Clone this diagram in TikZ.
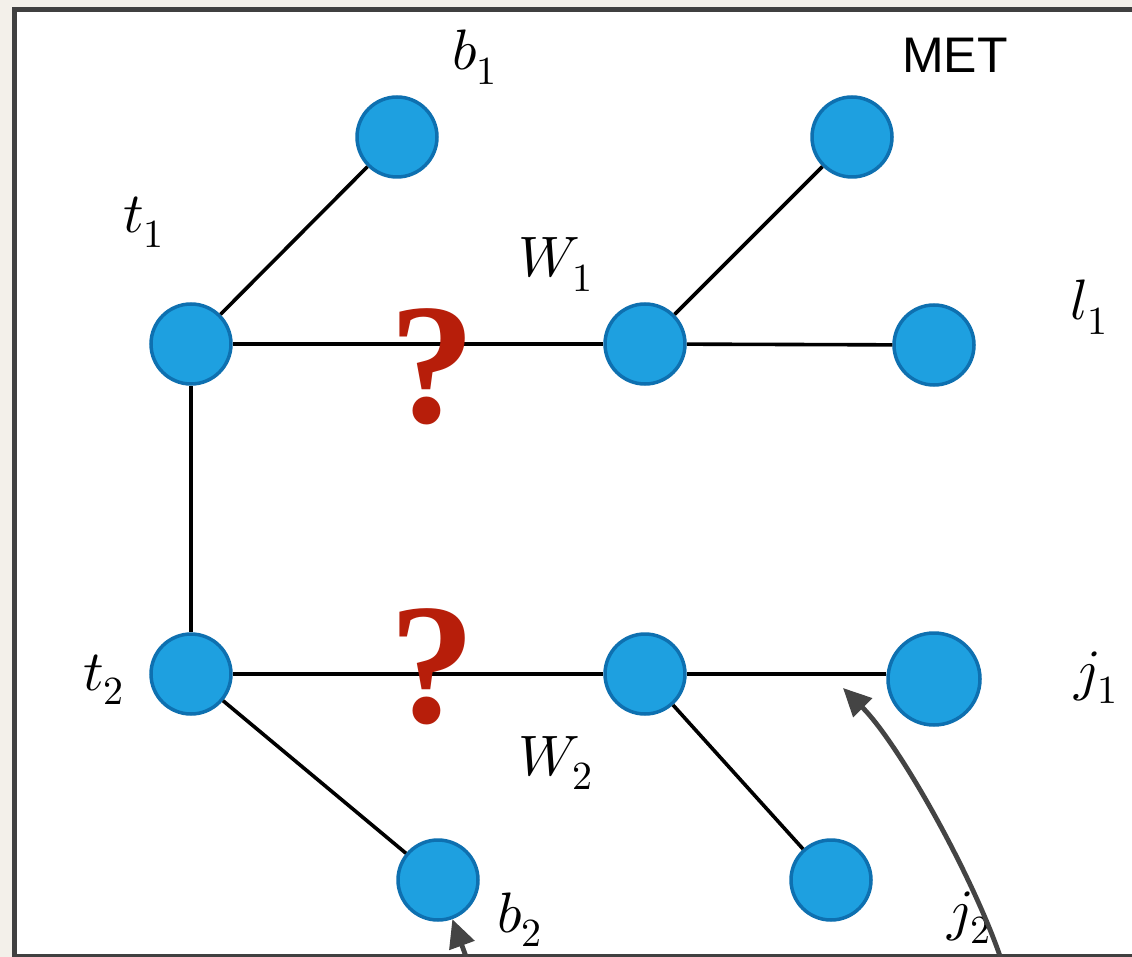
\documentclass[tikz,border=0pt]{standalone}
\usepackage{fontspec}
\usepackage{unicode-math}
\setmathfont{Latin Modern Math}
\newfontfamily\metfont{Liberation Sans}
\newfontfamily\qmarkfont{Liberation Serif}
\usetikzlibrary{arrows.meta}
\definecolor{NodeBlue}{RGB}{30,160,224}
\definecolor{RimBlue}{RGB}{14,112,176}
\definecolor{QRed}{RGB}{183,30,10}
\definecolor{FrameGray}{RGB}{64,64,64}
\definecolor{ArrowGray}{RGB}{68,68,68}
\definecolor{PaperBeige}{RGB}{243,240,234}

\begin{document}
\begin{tikzpicture}[x=1pt, y=-1pt,
    particle/.style={circle, draw=RimBlue, fill=NodeBlue, line width=3.5pt, minimum size=80pt, inner sep=0pt},
    mathtag/.style={anchor=base west, inner sep=0pt, font=\fontsize{57}{60}\selectfont},
    qmark/.style={inner sep=0pt, text=QRed, font=\fontsize{172}{172}\selectfont\qmarkfont\bfseries},
    wire/.style={line width=3.6pt, draw=black},
    pointer/.style={-{Triangle[length=28pt,width=26pt]}, line width=4.8pt, draw=ArrowGray}
  ]
    \useasboundingbox (0,0) rectangle (1132,957);
    \clip (0,0) rectangle (1132,957);
    \fill[PaperBeige] (0,0) rectangle (1132,957);
    \draw[FrameGray, line width=5pt, fill=white] (14.5,9.8) rectangle (1145,956.5);

    \node[particle] (t1) at (191,344) {};
    \node[particle] (b1) at (397,137) {};
    \node[particle] (W1) at (645,344) {};
    \node[particle] (met) at (852,137) {};
    \node[particle] (l1) at (934,345) {};
    \node[particle] (t2) at (191,674) {};
    \node[particle] (W2) at (645,674) {};
    \node[particle, minimum size=92pt] (j1) at (934,679) {};
    \node[particle] (b2) at (438,880) {};
    \node[particle] (q2) at (831,880) {};

    \draw[wire] (t1) -- (b1);
    \draw[wire] (t1) -- (W1);
    \draw[wire] (W1) -- (met);
    \draw[wire] (W1) -- (l1);
    \draw[wire] (t1) -- (t2);
    \draw[wire] (t2) -- (W2);
    \draw[wire] (W2) -- (j1.west |- W2);
    \draw[wire] (t2) -- (b2);
    \draw[wire] (W2) -- (q2);

    \node[qmark] (qtop) at (432,367) {?};
    \node[qmark] (qbot) at (432,667) {?};

    \node[mathtag] (b1tag) at (452,70) {$b_1$};
    \node[anchor=base west, inner sep=0pt, font=\fontsize{50}{56}\selectfont\metfont] (mettag) at (902,73) {MET};
    \node[mathtag] (t1tag) at (123,233) {$t_1$};
    \node[mathtag] (W1tag) at (518,277) {$W_1$};
    \node[mathtag] (l1tag) at (1070,320) {$l_1$};
    \node[mathtag] (t2tag) at (83,690) {$t_2$};
    \node[mathtag] (j1tag) at (1074,689) {$j_1$};
    \node[mathtag] (W2tag) at (518,775) {$W_2$};
    \node[mathtag] (b2tag) at (497,932) {$b_2$};
    \node[mathtag] (j2tag) at (947,929) {$j_2$};

    \coordinate (b2tail) at (468,962);
    \coordinate (j2tail) at (1002,962);
    \coordinate (jetline) at (843,688);
    \draw[pointer] (b2tail) -- (b2);
    \draw[pointer] (j2tail) .. controls (975,880) and (900,745) .. (jetline);
  \end{tikzpicture}
\end{document}
